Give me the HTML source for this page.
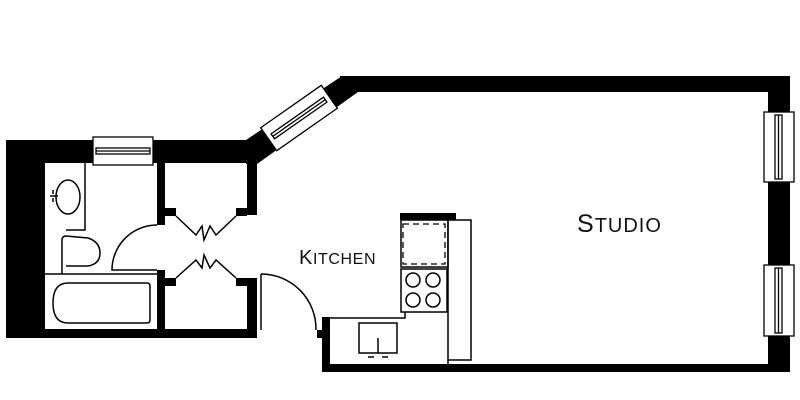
<!DOCTYPE html>
<html><head><meta charset="utf-8"><style>
html,body{margin:0;padding:0;background:#fff;width:800px;height:400px;overflow:hidden}
svg{display:block}
text{font-family:"Liberation Sans",sans-serif;fill:#111}
</style></head><body>
<svg width="800" height="400" viewBox="0 0 800 400" xmlns="http://www.w3.org/2000/svg">
<rect width="800" height="400" fill="#fff"/>
<rect x="6" y="140" width="251" height="198" fill="#000"/>
<rect x="45" y="163" width="112" height="166" fill="#fff"/>
<rect x="165" y="163" width="82" height="166" fill="#fff"/>
<rect x="247" y="215" width="10" height="63" fill="#fff"/>
<rect x="157" y="225" width="8" height="45" fill="#fff"/>
<rect x="165" y="208" width="11" height="8" fill="#000"/>
<rect x="236" y="208" width="11" height="8" fill="#000"/>
<rect x="165" y="278" width="11" height="8" fill="#000"/>
<rect x="236" y="278" width="11" height="8" fill="#000"/>
<polygon points="246,140 342,76 358,92 257,164 246,164" fill="#000"/>
<rect x="340" y="76" width="450" height="16" fill="#000"/>
<rect x="768" y="76" width="22" height="296" fill="#000"/>
<rect x="322" y="364" width="468" height="8" fill="#000"/>
<rect x="322" y="317" width="8" height="55" fill="#000"/>
<rect x="317" y="330" width="6" height="8" fill="#000"/>
<g fill="#fff" stroke="#000" stroke-width="1.3">
<rect x="93" y="137" width="60" height="28"/>
<rect x="96" y="148" width="54" height="6"/>
<line x1="96" y1="151" x2="150" y2="151"/>
<rect x="764" y="112" width="30" height="70"/>
<rect x="775" y="115" width="7" height="64"/>
<line x1="778.5" y1="115" x2="778.5" y2="179"/>
<rect x="764" y="265" width="30" height="71"/>
<rect x="775" y="268" width="7" height="65"/>
<line x1="778.5" y1="268" x2="778.5" y2="333"/>
<g transform="translate(299,118) rotate(-35)">
<rect x="-37" y="-14" width="74" height="28"/>
<rect x="-32" y="-3" width="64" height="6"/>
<line x1="-32" y1="0" x2="32" y2="0"/>
</g>
</g>
<g fill="none" stroke="#000" stroke-width="1.5">
<path d="M85,163 V230 H66"/>
<ellipse cx="68" cy="197" rx="12" ry="17"/>
<path d="M53,190 v4 M53,198 v4 M50,196 h8"/>
<path d="M62,274 V240 Q62,236 66,236 L88,238 Q100,242 100,253 Q100,264 88,266 L66,266"/>
<path d="M45,274 H157"/>
<path d="M68,283 H147 Q150,283 150,286 V320 Q150,323 147,323 H68 Q53,323 53,303 Q53,283 68,283 Z"/>
<path d="M157,225 A45,45 0 0 0 112,270 H157"/>
<path d="M176,216 L196,235 L202,226 L204,240 L210,226 L216,235 L236,216"/>
<path d="M176,278 L196,260 L202,268 L204,255 L210,268 L216,260 L236,278"/>
<path d="M261,274 V330 M261,274 A55,55 0 0 1 316,330"/>
<path d="M405,312 V318 H330"/>
<rect x="359" y="323" width="38" height="30"/>
<path d="M378,338 V353 M368,357 h6 M382,357 h6"/>
<rect x="448" y="220" width="23" height="140"/>
<path d="M448,360 V364"/>
<rect x="401" y="220" width="47" height="47"/>
<rect x="401" y="269" width="46" height="43"/>
<circle cx="413" cy="280" r="7"/><circle cx="433" cy="280" r="7"/>
<circle cx="413" cy="300" r="7"/><circle cx="433" cy="300" r="7"/>
</g>
<rect x="403" y="224" width="42" height="40" fill="none" stroke="#000" stroke-width="1.3" stroke-dasharray="6,4"/>
<rect x="400" y="213" width="56" height="7" fill="#000"/>
<text x="299" y="264" font-size="20" letter-spacing="0.6">K<tspan font-size="16">ITCHEN</tspan></text>
<text x="577" y="232" font-size="25" letter-spacing="1">S<tspan font-size="20">TUDIO</tspan></text>
</svg>
</body></html>
